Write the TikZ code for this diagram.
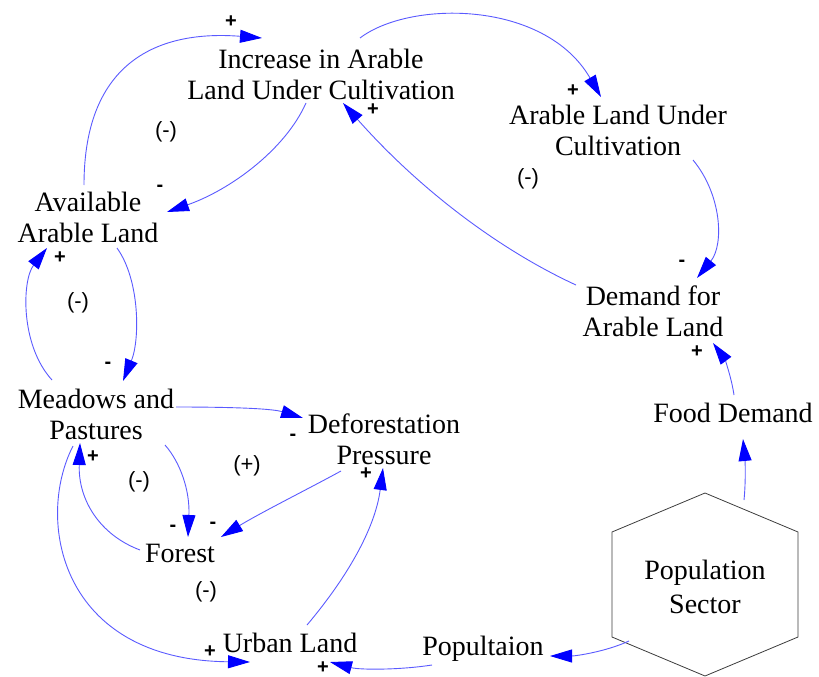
\documentclass[tikz,border=0pt]{standalone}
\usepackage{fontspec}
\setmainfont{Liberation Serif}
\newfontfamily\varfont{Liberation Serif}
\newfontfamily\labfont{Liberation Sans}
\usetikzlibrary{arrows.meta,calc}
\definecolor{lnblue}{RGB}{90,90,255}
\definecolor{tipblue}{RGB}{0,0,255}
\definecolor{hexgray}{RGB}{60,60,60}
\begin{document}
\begin{tikzpicture}[x=1pt,y=-1pt]
\tikzset{
  var/.style={font=\varfont\fontsize{28}{31}\selectfont, align=center, inner sep=0pt},
  lnk/.style={draw=lnblue, line width=0.9pt, -{Triangle[length=22pt,width=13pt,color=tipblue]}},
  pm/.style={font=\labfont\bfseries\fontsize{20}{20}\selectfont, inner sep=0pt},
  lp/.style={font=\labfont\fontsize{22}{22}\selectfont, inner sep=0pt}
}
\useasboundingbox (0,0) rectangle (819,677);
% variables
\node[var] (inc) at (321,74) {Increase in Arable\\Land Under Cultivation};
\node[var] (aluc) at (618,130) {Arable Land Under\\Cultivation};
\node[var] (avail) at (88,217) {Available\\Arable Land};
\node[var] (dem) at (653,311.5) {Demand for\\Arable Land};
\node[var] (mead) at (96,414.5) {Meadows and\\Pastures};
\node[var] (defo) at (384,439) {Deforestation\\Pressure};
\node[var] (food) at (733,412.5) {Food Demand};
\node[var] (forest) at (180,553) {Forest};
\node[var] (urban) at (290,643) {Urban Land};
\node[var] (popu) at (483,648.5) {Popultaion};
\node[var, font=\varfont\fontsize{28}{34}\selectfont] (pop) at (705,587) {Population\\Sector};
\coordinate (hc) at (705,584.5);
\draw[hexgray, line width=0.8pt] ($(hc)+(0,-91.5)$) -- ($(hc)+(93,-52.5)$) -- ($(hc)+(93,52.5)$) -- ($(hc)+(0,91.5)$) -- ($(hc)+(-93,52.5)$) -- ($(hc)+(-93,-52.5)$) -- cycle;
% links
\draw[lnk] ($(avail)+(-4,-32)$) .. controls (84,60) and (160,30) .. ($(inc)+(-59,-36)$);
\draw[lnk] ($(inc)+(-15,29)$) .. controls (285,150) and (230,190) .. ($(avail)+(79,-5)$);
\draw[lnk] ($(inc)+(39,-36)$) .. controls (410,0) and (545,0) .. ($(aluc)+(-17,-33)$);
\draw[lnk] ($(aluc)+(75,30)$) .. controls (722,195) and (724,245) .. ($(dem)+(44,-33.5)$);
\draw[lnk] ($(dem)+(-77,-26.5)$) .. controls (500,250) and (420,190) .. ($(inc)+(22,29)$);
\draw[lnk] ($(avail)+(29,31)$) .. controls (140,280) and (140,340) .. ($(mead)+(27,-33.5)$);
\draw[lnk] ($(mead)+(-44,-34.5)$) .. controls (20,345) and (22,280) .. ($(avail)+(-41,31)$);
\draw[lnk] ($(mead)+(80,-7.5)$) .. controls (220,407) and (270,408) .. ($(defo)+(-81,-21)$);
\draw[lnk] ($(mead)+(69,30.5)$) .. controls (180,462) and (190,490) .. ($(forest)+(8,-16)$);
\draw[lnk] ($(forest)+(-40,-3)$) .. controls (100,535) and (78,500) .. ($(mead)+(-16,28.5)$);
\draw[lnk] ($(defo)+(-43,32)$) .. controls (310,488) and (260,513) .. ($(forest)+(41,-16)$);
\draw[lnk] ($(mead)+(-23,31.5)$) .. controls (35,520) and (60,660) .. ($(urban)+(-40,19)$);
\draw[lnk] ($(urban)+(17,-18)$) .. controls (345,580) and (375,530) .. ($(defo)+(-1,29)$);
\draw[lnk] ($(popu)+(-51,16.5)$) .. controls (400,670) and (360,670) .. ($(urban)+(40,19)$);
\draw[lnk] ($(hc)+(-76,56.5)$) .. controls (605,652) and (575,656) .. ($(popu)+(67,7.5)$);
\draw[lnk] ($(hc)+(39,-84.5)$) .. controls (746,480) and (745,460) .. ($(food)+(10,26.5)$);
\draw[lnk] ($(food)+(1,-17.5)$) .. controls (731,375) and (724,358) .. ($(dem)+(60,31.5)$);
% polarity labels
\node[pm] (p1) at (231,22) {+};
\node[pm] (p2) at (160,188) {-};
\node[pm] (p3) at (573,91) {+};
\node[pm] (p4) at (682,263) {-};
\node[pm] (p5) at (373,110) {+};
\node[pm] (p6) at (108,365) {-};
\node[pm] (p7) at (60,258) {+};
\node[pm] (p8) at (293,437) {-};
\node[pm] (p9) at (173,528) {-};
\node[pm] (p10) at (93,457) {+};
\node[pm] (p11) at (213,525) {-};
\node[pm] (p12) at (210,652) {+};
\node[pm] (p13) at (366,474) {+};
\node[pm] (p14) at (323,668) {+};
\node[pm] (p15) at (697,352) {+};
% loop labels
\node[lp] (r1) at (166,132) {(-)};
\node[lp] (r2) at (528,179) {(-)};
\node[lp] (r3) at (78,303) {(-)};
\node[lp] (r4) at (139,482) {(-)};
\node[lp] (r5) at (247,466) {(+)};
\node[lp] (r6) at (206,592) {(-)};
\end{tikzpicture}
\end{document}
